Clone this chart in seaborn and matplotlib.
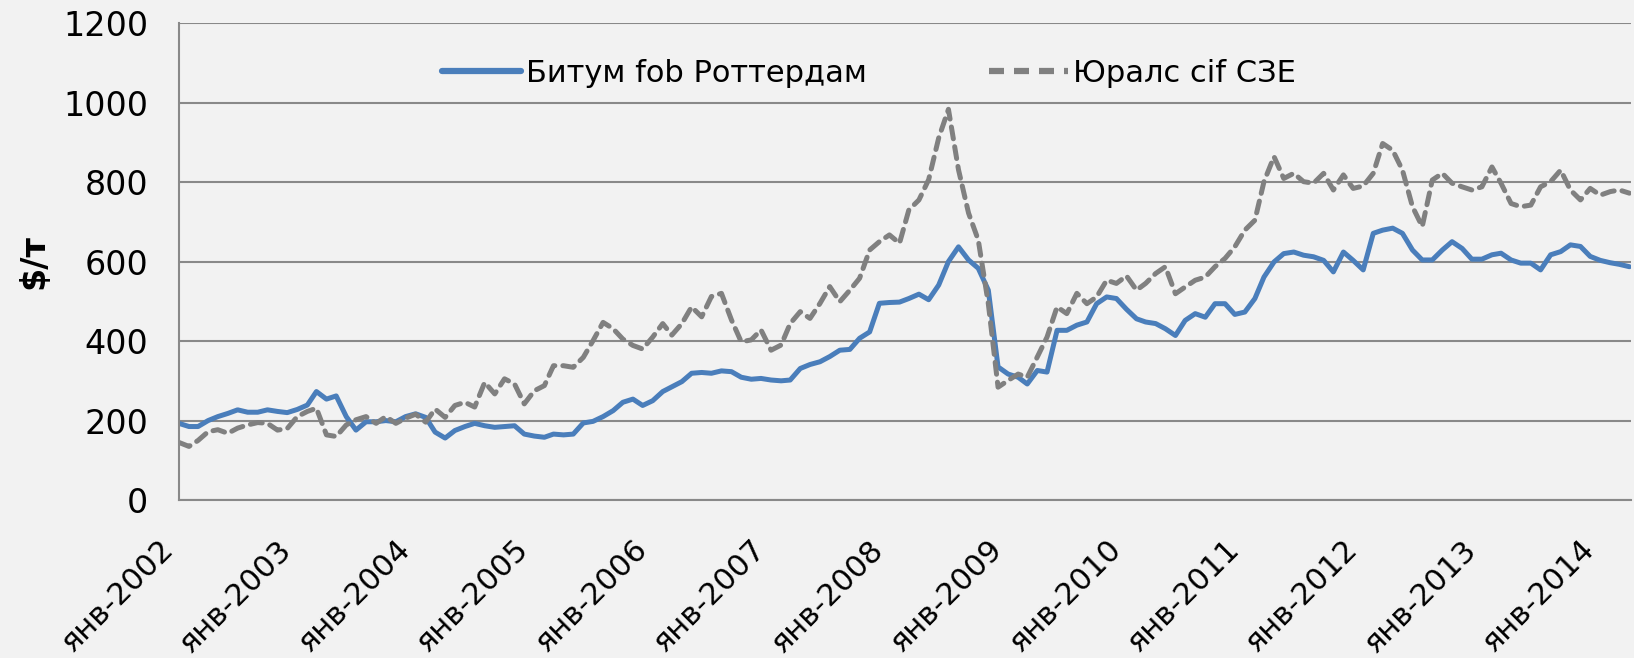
import matplotlib
matplotlib.use("Agg")
import matplotlib.pyplot as plt
import seaborn as sns
import pandas as pd

# monthly readings, Jan 2002 .. Apr 2014 ($/т)
bitumen = [
    193, 185, 185, 200, 210, 218, 227, 221, 221, 227, 223, 220,
    228, 239, 273, 254, 262, 210, 176, 197, 197, 200, 197, 210,
    217, 208, 171, 156, 175, 185, 193, 187, 183, 185, 187, 166,
    161, 158, 166, 164, 166, 194, 198, 210, 225, 246, 254, 238,
    250, 273, 285, 298, 319, 321, 319, 325, 323, 309, 304, 306,
    302, 300, 302, 331, 341, 348, 361, 377, 379, 407, 423, 495,
    497, 498, 507, 518, 504, 541, 600, 637, 604, 583, 528, 335,
    317, 309, 292, 326, 322, 427, 427, 440, 448, 494, 511, 507,
    480, 456, 448, 444, 431, 414, 452, 469, 460, 494, 494, 467,
    473, 507, 561, 599, 620, 624, 616, 612, 603, 574, 624, 603,
    579, 671, 679, 684, 671, 629, 604, 604, 629, 650, 633, 606,
    606, 617, 621, 604, 596, 596, 579, 617, 625, 642, 638, 613,
    603, 597, 593, 587,
]
urals = [
    145, 135, 150, 172, 177, 168, 181, 189, 195, 193, 176, 180,
    210, 223, 231, 164, 160, 189, 202, 210, 193, 210, 193, 206,
    216, 196, 229, 208, 238, 246, 234, 296, 267, 305, 292, 242,
    275, 288, 338, 338, 334, 359, 401, 447, 431, 405, 389, 380,
    410, 444, 415, 444, 486, 461, 512, 520, 453, 398, 403, 428,
    377, 390, 444, 474, 457, 495, 537, 499, 528, 558, 629, 650,
    667, 646, 730, 755, 806, 911, 983, 831, 722, 654, 494, 284,
    301, 317, 309, 360, 410, 486, 469, 520, 494, 511, 553, 545,
    564, 528, 545, 570, 587, 519, 536, 553, 561, 587, 608, 637,
    679, 704, 801, 864, 809, 822, 801, 797, 822, 780, 818, 784,
    790, 822, 897, 880, 830, 738, 688, 805, 822, 797, 788, 780,
    788, 838, 797, 746, 738, 742, 788, 801, 830, 780, 755, 784,
    767, 776, 780, 772,
]
dates = pd.date_range("2002-01-01", periods=len(bitumen), freq="MS")
labels = ["Битум fob Роттердам", "Юралс cif СЗЕ"]
years = list(range(2002, 2015))
tick_labels = [f"янв-{y}" for y in years]

df = pd.DataFrame({"date": list(dates) * 2,
                   "price": bitumen + urals,
                   "series": [labels[0]] * len(bitumen) + [labels[1]] * len(urals)})

sns.set_style("white")
plt.rcParams["font.family"] = ["DejaVu Sans"]
plt.rcParams["text.color"] = "black"
plt.rcParams["xtick.labelcolor"] = "black"
plt.rcParams["ytick.labelcolor"] = "black"

bg = "#f2f2f2"
fig = plt.figure(figsize=(16.34, 6.58), dpi=100, facecolor=bg)
ax = fig.add_axes([0.1095, 0.240, 0.8885, 0.725], facecolor=bg)

sns.lineplot(data=df, x="date", y="price", hue="series", style="series",
             palette=["#4a7ebb", "#808080"],
             dashes=[(2.4, 1.6), (2.4, 1.6)], linewidth=3.6, ax=ax)
ax.lines[0].set_linestyle("-")
for ln in ax.lines[:2]:
    ln.set_dash_capstyle("round")

ax.set_ylim(0, 1200)
ax.set_yticks(range(0, 1201, 200))
ax.set_xlim(pd.Timestamp("2002-01-01"), pd.Timestamp("2014-04-05"))
ticks = [pd.Timestamp(f"{y}-01-01") for y in years]
ax.set_xticks(ticks)
ax.set_xticklabels(tick_labels, rotation=45, ha="right", va="top",
                   fontsize=22, color="black")
ax.tick_params(axis="y", labelsize=24, length=12, width=1.5, color="#898989", pad=10,
               labelcolor="black")
ax.tick_params(axis="x", length=10, width=1.5, color="#898989", pad=20, direction="inout")
ax.grid(axis="y", color="#898989", linewidth=1.5)
ax.set_axisbelow(True)
for s in ["top", "right"]:
    ax.spines[s].set_visible(False)
for s in ["left", "bottom"]:
    ax.spines[s].set_color("#898989")
    ax.spines[s].set_linewidth(1.5)

ax.set_xlabel("")
ax.set_ylabel("$/т", fontsize=24, fontweight="bold", labelpad=9, color="black")

leg = ax.legend(loc="center", bbox_to_anchor=(0.475, 0.895), ncol=2, frameon=False,
                fontsize=22, handlelength=2.6, columnspacing=4.0, handletextpad=0.15)
for h in leg.get_lines():
    h.set_linewidth(4.5)
leg.get_lines()[0].set_linestyle("-")
for t in leg.get_texts():
    t.set_color("black")

fig.savefig("out.png", dpi=100, facecolor=bg)
